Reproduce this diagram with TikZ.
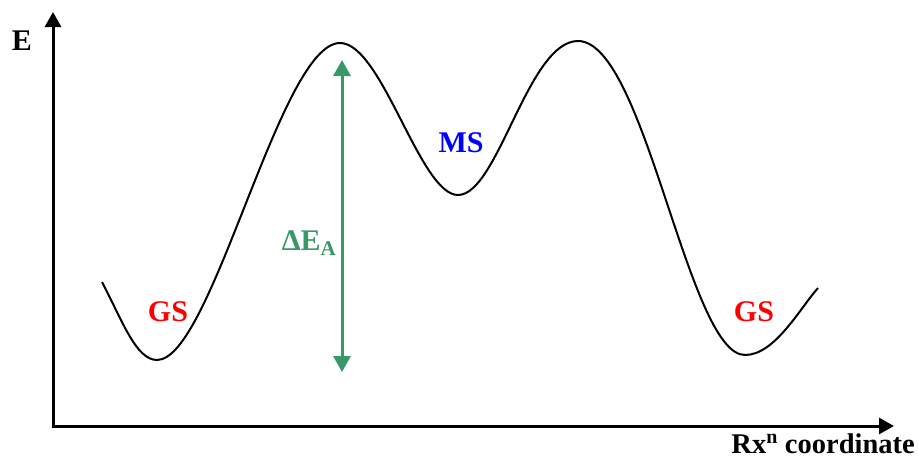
\documentclass[tikz,border=0pt]{standalone}
\usepackage{fontspec}
\setmainfont{Liberation Serif}
\usetikzlibrary{arrows.meta}
\definecolor{arrgreen}{RGB}{56,152,102}
\tikzset{
  axis/.style={line width=3pt,-{Triangle[length=15pt,width=16pt]}},
  curve/.style={line width=2pt,black},
  lbl/.style={font=\fontsize{30}{32}\selectfont\bfseries,inner sep=0pt},
  garrow/.style={line width=3pt,arrgreen,{Triangle[length=16pt,width=17pt]}-{Triangle[length=16pt,width=17pt]}}
}
\begin{document}
\begin{tikzpicture}[x=1pt,y=-1pt]
\useasboundingbox (0,0) rectangle (919,459);
\coordinate (o) at (53,426);
\coordinate (ytop) at (53,12);
\coordinate (xend) at (894,426);
\draw[axis] (o) -- (ytop);
\draw[axis] ([xshift=-1.5pt]o) -- (xend);
\node[lbl] (E) at (22,41) {E};
\node[lbl,font=\fontsize{28.5}{31}\selectfont\bfseries,anchor=base east] (rx) at (915,453) {Rx\textsuperscript{n} coordinate};
\draw[curve] (102,282) .. controls (122,320) and (136,360) .. (157,360)
  .. controls (212,360) and (280,43) .. (340,43)
  .. controls (382,43) and (420,195) .. (458,195)
  .. controls (498,195) and (528,41) .. (578,41)
  .. controls (645,41) and (688,355) .. (745,355)
  .. controls (775,355) and (800,308) .. (818,288);
\coordinate (atop) at (342,60);
\coordinate (abot) at (342,372);
\draw[garrow] (atop) -- (abot);
\node[lbl,arrgreen] (dE) at (309,243) {ΔE\textsubscript{A}};
\node[lbl,red] (gs1) at (168,312) {GS};
\node[lbl,red] (gs2) at (754,312) {GS};
\node[lbl,blue] (ms) at (461,143) {MS};
\end{tikzpicture}
\end{document}
